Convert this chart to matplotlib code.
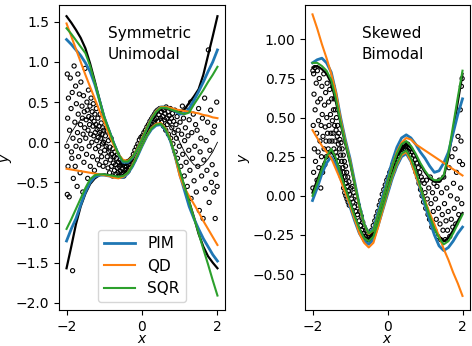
import matplotlib
matplotlib.use("Agg")
import matplotlib.pyplot as plt
import numpy as np

grid = [-2, -1.875, -1.75, -1.625, -1.5, -1.375, -1.25, -1.125, -1, -0.875, -0.75, -0.625, -0.5, -0.375, -0.25, -0.125,
        0, 0.125, 0.25, 0.375, 0.5, 0.625, 0.75, 0.875, 1, 1.125, 1.25, 1.375, 1.5, 1.625, 1.75, 1.875, 2]

# --- Symmetric Unimodal ---
su_true_hi = [1.57, 1.49, 1.40, 1.30, 1.17, 0.98, 0.76, 0.53, 0.31, 0.15, -0.01, -0.15, -0.24, -0.24, -0.185, -0.087,
              0.037, 0.169, 0.29, 0.38, 0.426, 0.43, 0.41, 0.39, 0.38, 0.41, 0.49, 0.57, 0.66, 0.84, 1.08, 1.32, 1.57]
su_true_lo = [-1.57, -1.30, -1.02, -0.80, -0.64, -0.52, -0.45, -0.41, -0.40, -0.41, -0.42, -0.43, -0.42, -0.38, -0.29, -0.17,
              -0.04, 0.08, 0.17, 0.22, 0.23, 0.16, 0.03, -0.17, -0.37, -0.55, -0.74, -0.93, -1.14, -1.30, -1.42, -1.50, -1.57]
su_true_mid = [0.0, 0.12, 0.21, 0.28, 0.30, 0.28, 0.21, 0.12, 0.0, -0.12, -0.21, -0.28, -0.30, -0.28, -0.21, -0.12,
               0.0, 0.12, 0.21, 0.28, 0.30, 0.28, 0.21, 0.12, 0.0, -0.12, -0.21, -0.28, -0.30, -0.28, -0.21, -0.12, 0.0]
su_pim_hi = [1.28, 1.22, 1.15, 1.08, 0.99, 0.88, 0.72, 0.52, 0.31, 0.15, -0.01, -0.15, -0.25, -0.25, -0.19, -0.09,
             0.04, 0.17, 0.30, 0.39, 0.44, 0.44, 0.42, 0.39, 0.35, 0.36, 0.42, 0.52, 0.63, 0.75, 0.88, 1.00, 1.15]
su_pim_lo = [-1.23, -1.08, -0.95, -0.78, -0.62, -0.50, -0.43, -0.41, -0.41, -0.42, -0.43, -0.44, -0.44, -0.39, -0.30, -0.18,
             -0.05, 0.07, 0.16, 0.21, 0.22, 0.15, 0.02, -0.17, -0.40, -0.60, -0.80, -0.95, -1.08, -1.20, -1.30, -1.40, -1.48]
su_qd_hi = [1.48, 1.32, 1.16, 1.00, 0.84, 0.69, 0.54, 0.39, 0.25, 0.10, -0.04, -0.15, -0.22, -0.23, -0.18, -0.08,
            0.05, 0.18, 0.30, 0.39, 0.44, 0.44, 0.43, 0.41, 0.40, 0.39, 0.38, 0.37, 0.36, 0.34, 0.33, 0.31, 0.30]
su_qd_lo = [-0.33, -0.34, -0.35, -0.36, -0.37, -0.38, -0.39, -0.40, -0.41, -0.42, -0.44, -0.45, -0.43, -0.38, -0.28, -0.16,
            -0.04, 0.08, 0.18, 0.23, 0.24, 0.17, 0.04, -0.17, -0.42, -0.57, -0.67, -0.77, -0.87, -0.98, -1.08, -1.18, -1.28]
su_sqr_hi = [1.42, 1.35, 1.27, 1.19, 1.11, 0.95, 0.74, 0.52, 0.31, 0.15, -0.01, -0.15, -0.24, -0.24, -0.185, -0.087,
             0.037, 0.169, 0.29, 0.38, 0.43, 0.43, 0.41, 0.39, 0.37, 0.35, 0.37, 0.47, 0.56, 0.65, 0.75, 0.84, 0.94]
su_sqr_lo = [-1.08, -0.96, -0.83, -0.70, -0.57, -0.46, -0.41, -0.40, -0.40, -0.41, -0.42, -0.43, -0.42, -0.38, -0.29, -0.17,
             -0.04, 0.08, 0.17, 0.22, 0.23, 0.16, 0.03, -0.16, -0.35, -0.55, -0.74, -0.94, -1.13, -1.33, -1.52, -1.72, -1.91]

su_x = [-1.98, -1.95, -1.97, -1.99, -1.96, -1.98, -1.93, -1.92, -1.9, -1.88, -1.87, -1.86, -1.85, -1.84, -1.83, -1.82,
        -1.8, -1.78, -1.77, -1.76, -1.75, -1.74, -1.72, -1.71, -1.7, -1.69, -1.68, -1.66, -1.65, -1.64, -1.63, -1.62,
        -1.6, -1.59, -1.58, -1.57, -1.56, -1.55, -1.54, -1.53, -1.52, -1.51,
        -1.49, -1.48, -1.47, -1.46, -1.45, -1.44, -1.43, -1.42, -1.41, -1.4, -1.39, -1.38, -1.37, -1.36, -1.35, -1.34,
        -1.33, -1.32, -1.31, -1.3, -1.29, -1.28, -1.27, -1.26, -1.25, -1.24, -1.23, -1.22, -1.21, -1.2, -1.19, -1.18,
        -1.17, -1.16, -1.15, -1.14, -1.13, -1.12, -1.11, -1.1, -1.09, -1.08, -1.07, -1.06, -1.05, -1.04, -1.03, -1.02, -1.01,
        -0.99, -0.97, -0.96, -0.95, -0.93, -0.92, -0.9, -0.89, -0.88, -0.86, -0.85, -0.84, -0.82, -0.81, -0.8, -0.78,
        -0.77, -0.76, -0.74, -0.73, -0.72, -0.7, -0.69, -0.68, -0.66, -0.65, -0.64, -0.62, -0.61, -0.6, -0.58, -0.57,
        -0.56, -0.54, -0.53, -0.52, -0.5, -0.49, -0.48, -0.46, -0.45, -0.44, -0.42, -0.41, -0.4, -0.38, -0.37, -0.35,
        -0.33, -0.31,
        -0.29, -0.27, -0.25, -0.23, -0.21, -0.19, -0.17, -0.15, -0.13, -0.11, -0.09, -0.07, -0.05, -0.03, -0.01, 0.01,
        0.03, 0.05, 0.07, 0.09, 0.11, 0.13, 0.15, 0.17, 0.19, 0.21, 0.23, 0.25, 0.27, 0.29, 0.31, 0.33, 0.35, 0.37,
        0.39, 0.41, 0.43, 0.45, 0.47, 0.49,
        0.51, 0.52, 0.54, 0.55, 0.57, 0.58, 0.6, 0.61, 0.63, 0.64, 0.66, 0.67, 0.69, 0.7, 0.72, 0.73, 0.75, 0.76, 0.78,
        0.79, 0.81, 0.82, 0.84, 0.85, 0.87, 0.88, 0.9, 0.91, 0.93, 0.94, 0.96, 0.97, 0.99,
        1.01, 1.03, 1.05, 1.07, 1.08, 1.1, 1.12, 1.13, 1.15, 1.17, 1.18, 1.2, 1.22, 1.24, 1.25, 1.27, 1.29, 1.3, 1.32,
        1.34, 1.36, 1.38, 1.4, 1.42, 1.44, 1.46, 1.48, 1.5, 1.52, 1.54, 1.56, 1.58, 1.6, 1.62, 1.64, 1.66, 1.68, 1.7,
        1.72, 1.74, 1.76, 1.78, 1.8, 1.82, 1.84, 1.86, 1.88, 1.9, 1.92, 1.94, 1.96, 1.98, 1.99]
su_y = [0.85, 0.55, 0.30, -0.05, -0.30, -0.65, -0.68, 0.15, 0.80, 0.42, -0.12, -0.20, 0.62, -1.60, 0.05, -0.45,
        0.95, 0.25, -0.30, 0.70, -0.05, 0.48, -0.55, 0.12, 0.85, 0.35, -0.18, 0.60, 0.02, -0.38, 0.22, 0.75,
        -0.08, 0.45, 0.30, -0.62, 0.10, 0.58, -0.25, 0.38, 0.18, 0.92,
        0.05, 0.28, -0.15, 0.50, 0.40, -0.45, 0.15, 0.65, 0.32, -0.05, 0.22, 0.45, -0.30, 0.10, 0.55, 0.30,
        0.0, 0.38, -0.18, 0.20, 0.48, 0.08, 0.26, -0.35, 0.35, 0.12, -0.08, 0.22, 0.42, 0.02, 0.16, -0.22,
        0.30, 0.06, -0.05, 0.20, -0.28, 0.12, 0.35, -0.12, 0.05, 0.24, -0.18, 0.10, -0.02, 0.18, -0.30, 0.0, 0.15,
        -0.1, 0.08, -0.25, -0.05, 0.14, -0.18, -0.32, 0.02, -0.12, -0.38, -0.06, -0.22, 0.05, -0.30, -0.15, -0.42,
        -0.08, -0.26, -0.18, -0.35, -0.12, -0.28, -0.40, -0.20, -0.32, -0.15, -0.38, -0.25, -0.42, -0.30, -0.22, -0.36,
        -0.28, -0.40, -0.25, -0.33, -0.38, -0.27, -0.42, -0.30, -0.35, -0.26, -0.38, -0.30, -0.34, -0.24, -0.36, -0.28,
        -0.32, -0.22,
        -0.28, -0.2, -0.25, -0.15, -0.22, -0.1, -0.16, -0.06, -0.12, -0.02, -0.07, 0.03, -0.03, 0.06, 0.0, 0.08,
        0.03, 0.12, 0.06, 0.15, 0.1, 0.19, 0.13, 0.22, 0.16, 0.26, 0.19, 0.29, 0.22, 0.32, 0.25, 0.35, 0.28, 0.38,
        0.3, 0.40, 0.26, 0.34, 0.42, 0.3,
        0.38, 0.25, 0.42, 0.32, 0.2, 0.40, 0.28, 0.36, 0.15, 0.44, 0.30, 0.22, 0.38, 0.10, 0.33, 0.25, 0.42, 0.05, 0.30,
        0.18, 0.36, -0.02, 0.26, 0.12, 0.40, -0.12, 0.22, 0.05, 0.32, -0.20, 0.15, 0.38, -0.05,
        0.25, -0.30, 0.10, 0.45, -0.15, 0.30, -0.42, 0.02, 0.18, -0.25, 0.40, -0.55, 0.08, -0.10, 0.28, -0.35, 0.50, -0.70, 0.12,
        -0.20, 0.35, -0.48, -0.05, 0.22, -0.62, 0.15, -0.30, 0.42, -0.85, -0.12, 0.05, -0.42, 0.30, -0.95, -0.22, 0.55, -0.58, 0.02,
        -0.35, 0.25, 1.15, -0.75, -0.10, 0.40, -0.50, -0.28, 0.12, -0.62, 0.20, -0.95, -0.40, 0.50, -0.55]

# --- Skewed Bimodal ---
sb_true_hi = [0.82, 0.83, 0.81, 0.78, 0.72, 0.60, 0.46, 0.33, 0.21, 0.07, -0.07, -0.19, -0.25, -0.23, -0.13, -0.03,
              0.08, 0.18, 0.26, 0.31, 0.33, 0.31, 0.26, 0.20, 0.15, 0.11, 0.09, 0.09, 0.12, 0.25, 0.42, 0.60, 0.78]
sb_true_lo = [0.02, 0.10, 0.18, 0.25, 0.29, 0.23, 0.14, 0.05, -0.04, -0.13, -0.21, -0.26, -0.28, -0.25, -0.16, -0.06,
              0.03, 0.13, 0.21, 0.26, 0.28, 0.23, 0.15, 0.05, -0.04, -0.13, -0.21, -0.26, -0.29, -0.27, -0.22, -0.16, -0.11]
sb_pim_hi = [0.85, 0.87, 0.88, 0.85, 0.79, 0.66, 0.50, 0.36, 0.24, 0.09, -0.06, -0.18, -0.24, -0.21, -0.10, 0.0,
             0.11, 0.22, 0.31, 0.37, 0.39, 0.37, 0.33, 0.28, 0.24, 0.19, 0.15, 0.16, 0.21, 0.28, 0.40, 0.52, 0.62]
sb_pim_lo = [-0.03, 0.05, 0.14, 0.21, 0.25, 0.20, 0.12, 0.03, -0.07, -0.16, -0.24, -0.29, -0.31, -0.28, -0.19, -0.09,
             0.01, 0.11, 0.19, 0.25, 0.27, 0.22, 0.14, 0.04, -0.06, -0.16, -0.25, -0.32, -0.35, -0.33, -0.29, -0.24, -0.20]
sb_qd_hi = [1.16, 1.07, 0.97, 0.88, 0.78, 0.66, 0.49, 0.35, 0.23, 0.08, -0.07, -0.18, -0.245, -0.22, -0.12, -0.02,
            0.09, 0.19, 0.28, 0.34, 0.37, 0.36, 0.33, 0.31, 0.29, 0.27, 0.25, 0.23, 0.21, 0.19, 0.17, 0.15, 0.13]
sb_qd_lo = [0.42, 0.37, 0.32, 0.28, 0.24, 0.17, 0.10, 0.02, -0.06, -0.15, -0.24, -0.30, -0.33, -0.30, -0.20, -0.09,
            0.02, 0.12, 0.20, 0.26, 0.28, 0.22, 0.13, 0.05, -0.03, -0.11, -0.18, -0.26, -0.34, -0.41, -0.49, -0.56, -0.64]
sb_sqr_hi = [0.85, 0.85, 0.83, 0.80, 0.74, 0.62, 0.47, 0.34, 0.22, 0.08, -0.06, -0.18, -0.24, -0.22, -0.12, -0.02,
             0.09, 0.19, 0.27, 0.33, 0.35, 0.32, 0.27, 0.21, 0.16, 0.12, 0.10, 0.10, 0.13, 0.27, 0.45, 0.63, 0.80]
sb_sqr_lo = [0.0, 0.08, 0.17, 0.25, 0.30, 0.24, 0.14, 0.05, -0.04, -0.13, -0.21, -0.27, -0.29, -0.26, -0.17, -0.07,
             0.03, 0.13, 0.21, 0.27, 0.29, 0.24, 0.16, 0.06, -0.04, -0.13, -0.21, -0.27, -0.31, -0.29, -0.24, -0.18, -0.12]

sb_x = [-1.99, -1.97, -1.96, -1.98, -1.95, -1.97, -1.99, -1.94, -1.93, -1.92, -1.9, -1.89, -1.88, -1.87, -1.86, -1.85,
        -1.84, -1.83, -1.82, -1.8, -1.79, -1.78, -1.77, -1.76, -1.75, -1.74, -1.73, -1.72, -1.7, -1.69, -1.68, -1.67,
        -1.66, -1.65, -1.64, -1.63, -1.62, -1.61, -1.6, -1.58, -1.57, -1.56, -1.55, -1.54, -1.53, -1.52, -1.51,
        -1.49, -1.48, -1.47, -1.46, -1.45, -1.44, -1.43, -1.42, -1.41, -1.4, -1.39, -1.38, -1.37, -1.36, -1.35, -1.34,
        -1.33, -1.32, -1.31, -1.3, -1.29, -1.28, -1.27, -1.26, -1.25, -1.24, -1.23, -1.22, -1.21, -1.2, -1.19, -1.18,
        -1.17, -1.16, -1.15, -1.14, -1.13, -1.12, -1.11, -1.1, -1.09, -1.08, -1.07, -1.06, -1.05, -1.04, -1.03, -1.02, -1.01,
        -0.98, -0.96, -0.94, -0.92, -0.9, -0.88, -0.86, -0.84, -0.82, -0.8, -0.78, -0.76, -0.74, -0.72, -0.7, -0.68,
        -0.66, -0.64, -0.62, -0.6, -0.58, -0.56, -0.54, -0.52, -0.5, -0.48, -0.46, -0.44, -0.42, -0.4, -0.38, -0.36,
        -0.34, -0.32,
        -0.3, -0.28, -0.26, -0.24, -0.22, -0.2, -0.18, -0.16, -0.14, -0.12, -0.1, -0.08, -0.06, -0.04, -0.02, 0.0,
        0.02, 0.04, 0.06, 0.08, 0.1, 0.12, 0.14, 0.16, 0.18, 0.2, 0.22, 0.24, 0.26, 0.28, 0.3, 0.32, 0.34, 0.36, 0.38,
        0.4, 0.42, 0.44, 0.46, 0.48,
        0.5, 0.52, 0.54, 0.56, 0.58, 0.6, 0.62, 0.64, 0.66, 0.68, 0.7, 0.72, 0.74, 0.76, 0.78, 0.8, 0.82, 0.84, 0.86,
        0.88, 0.9, 0.92, 0.94, 0.96, 0.98,
        1.0, 1.02, 1.04, 1.06, 1.08, 1.1, 1.12, 1.14, 1.16, 1.18, 1.2, 1.22, 1.24, 1.26, 1.28, 1.3, 1.32, 1.34, 1.36,
        1.38, 1.4, 1.42, 1.44, 1.46, 1.48, 1.5, 1.52, 1.54, 1.56, 1.58, 1.6, 1.62, 1.64, 1.66, 1.68, 1.7, 1.72, 1.74,
        1.76, 1.78, 1.8, 1.82, 1.84, 1.86, 1.88, 1.9, 1.92, 1.94, 1.95, 1.96, 1.97, 1.98, 1.99, 2.0]
sb_y = [0.80, 0.78, 0.65, 0.45, 0.30, 0.15, 0.05, 0.82, 0.55, 0.22, 0.72, 0.40, 0.10, 0.80, 0.60, 0.28,
        0.48, 0.18, 0.75, 0.35, 0.62, 0.05, 0.45, 0.25, 0.70, 0.52, 0.15, 0.38, 0.78, 0.30, 0.58, 0.20,
        0.44, 0.66, 0.35, 0.25, 0.50, 0.72, 0.40, 0.30, 0.60, 0.45, 0.35, 0.68, 0.28, 0.52, 0.40,
        0.62, 0.35, 0.48, 0.70, 0.40, 0.55, 0.30, 0.62, 0.45, 0.35, 0.55, 0.28, 0.42, 0.50, 0.25, 0.38,
        0.45, 0.22, 0.33, 0.40, 0.18, 0.30, 0.36, 0.15, 0.26, 0.34, 0.12, 0.22, 0.30, 0.10, 0.18, 0.26,
        0.05, 0.15, 0.22, 0.02, 0.12, 0.19, 0.0, 0.08, 0.15, -0.02, 0.06, 0.12, -0.04, 0.03, 0.09, -0.06, 0.01,
        0.05, -0.02, 0.06, -0.04, 0.02, -0.07, 0.0, -0.10, -0.03, -0.12, -0.06, -0.16, -0.10, -0.19, -0.13, -0.22,
        -0.17, -0.24, -0.20, -0.26, -0.22, -0.28, -0.24, -0.29, -0.25, -0.28, -0.24, -0.27, -0.22, -0.26, -0.19, -0.23,
        -0.16, -0.20,
        -0.13, -0.17, -0.10, -0.14, -0.06, -0.10, -0.03, -0.07, 0.01, -0.03, 0.04, 0.0, 0.07, 0.03, 0.10, 0.05,
        0.12, 0.08, 0.15, 0.11, 0.17, 0.14, 0.20, 0.16, 0.22, 0.19, 0.25, 0.21, 0.27, 0.23, 0.28, 0.25, 0.30, 0.27, 0.31,
        0.28, 0.32, 0.29, 0.33, 0.30,
        0.32, 0.29, 0.33, 0.28, 0.31, 0.26, 0.30, 0.24, 0.28, 0.21, 0.26, 0.18, 0.23, 0.15, 0.21, 0.12, 0.18, 0.08, 0.15,
        0.04, 0.12, 0.0, 0.10, -0.04, 0.08,
        0.02, -0.08, 0.10, -0.02, -0.12, 0.05, -0.15, 0.12, -0.05, -0.20, 0.02, -0.10, 0.08, -0.22, -0.02, -0.15, 0.06, -0.26, -0.08,
        0.10, -0.18, -0.28, 0.02, -0.12, -0.22, 0.12, -0.05, -0.28, -0.16, 0.05, -0.22, -0.10, 0.18, -0.26, 0.0, -0.15, 0.25, -0.20,
        0.08, -0.08, 0.30, -0.18, 0.15, -0.02, 0.38, -0.12, 0.22, 0.55, 0.05, 0.35, 0.70, -0.05, 0.75, 0.20]

plt.rcParams['font.size'] = 10

fig = plt.figure(figsize=(4.72, 3.46), dpi=100)
ax1 = fig.add_axes([59/472, 1 - 310/346, 166/472, 305/346])
ax2 = fig.add_axes([305/472, 1 - 310/346, 165/472, 305/346])

panels = [
    (ax1, su_x, su_y, [su_true_hi, su_true_lo], [su_true_mid],
     [su_pim_hi, su_pim_lo], [su_qd_hi, su_qd_lo], [su_sqr_hi, su_sqr_lo], "Symmetric\nUnimodal", 0.295),
    (ax2, sb_x, sb_y, [sb_true_hi, sb_true_lo], [],
     [sb_pim_hi, sb_pim_lo], [sb_qd_hi, sb_qd_lo], [sb_sqr_hi, sb_sqr_lo], "Skewed\nBimodal", 0.345),
]

for ax, sx, sy, true_q, thin_q, pim, qd, sqr, name, tx in panels:
    ax.scatter(sx, sy, s=9, facecolors='none', edgecolors='black', linewidths=0.8, zorder=1)
    for q in thin_q:
        ax.plot(grid, q, color='black', lw=0.6, zorder=2)
    for q in true_q:
        ax.plot(grid, q, color='black', lw=1.6, zorder=2)
    for i, q in enumerate(pim):
        ax.plot(grid, q, color='tab:blue', lw=2.0, zorder=3, label='PIM' if i == 0 else None)
    for i, q in enumerate(qd):
        ax.plot(grid, q, color='tab:orange', lw=1.5, zorder=4, label='QD' if i == 0 else None)
    for i, q in enumerate(sqr):
        ax.plot(grid, q, color='tab:green', lw=1.5, zorder=5, label='SQR' if i == 0 else None)
    ax.text(tx, 0.93, name, transform=ax.transAxes,
            ha='left', va='top', fontsize=11, linespacing=1.5)
    ax.set_xlabel('$x$', fontsize=10, labelpad=-1)
    ax.set_ylabel('$y$', fontsize=10, labelpad=1)
    ax.set_xlim(-2.2, 2.2)
    ax.set_xticks([-2, 0, 2])

ax1.set_ylim(-2.09, 1.71)
ax1.set_yticks([-2.0, -1.5, -1.0, -0.5, 0.0, 0.5, 1.0, 1.5])
ax2.set_ylim(-0.73, 1.22)
ax2.set_yticks([-0.5, -0.25, 0.0, 0.25, 0.5, 0.75, 1.0])

ax1.legend(loc='lower center', fontsize=11, handlelength=2.0)

fig.savefig('out.png', dpi=100)
